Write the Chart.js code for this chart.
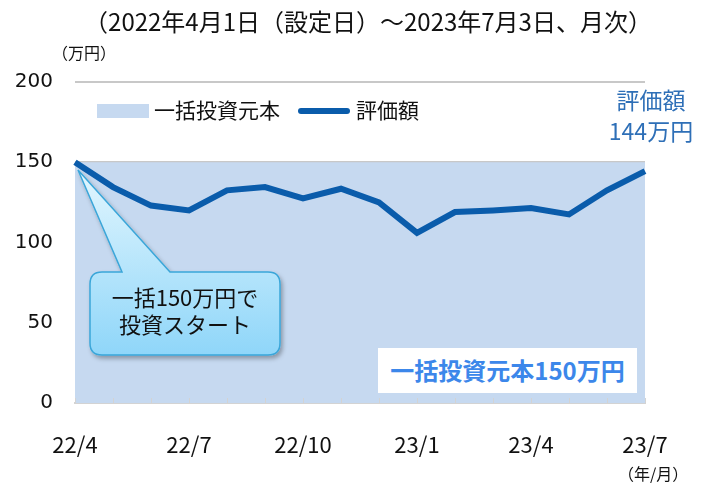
<!DOCTYPE html>
<html lang="ja">
<head>
<meta charset="utf-8">
<script src="https://cdn.jsdelivr.net/npm/chart.js@4.4.1/dist/chart.umd.min.js"></script>
<style>
  body { margin: 0; background: #fff; font-family: "Noto Sans CJK JP", sans-serif; }
  #wrap { position: relative; width: 706px; height: 483px; overflow: hidden; }
  #graf { position: absolute; left: 0; top: 0; }
  .txt { position: absolute; white-space: nowrap; color: #111; }
  #titulo { left: 0; width: 736px; top: 3px; text-align: center; font-size: 24px; }
  #unidade { left: 52px; top: 40px; font-size: 16px; }
  #unidadeX { left: 618px; top: 461px; font-size: 16px; }
  #leg1box { position: absolute; left: 97px; top: 104px; width: 52px; height: 14px; background: #c6d9f0; }
  #leg1 { left: 154px; top: 94px; font-size: 21px; }
  #leg2line { position: absolute; left: 298px; top: 108px; width: 52px; height: 6px; border-radius: 3px; background: #0a5cab; }
  #leg2 { left: 356px; top: 94px; font-size: 21px; }
  .azul { color: #2e6fb7; font-size: 23px; text-align: center; width: 110px; left: 596px; }
  #fim1 { top: 82px; }
  #fim2 { top: 113px; }
  #caixa { position: absolute; left: 378px; top: 348px; width: 259px; height: 45px; background: #fff; }
  #caixaTxt { left: 378px; width: 259px; top: 352px; text-align: center; font-size: 24px; font-weight: bold; color: #3c87ea; }
  #balao { position: absolute; left: 0; top: 0; }
  #balaoTxt { left: 90px; width: 190px; top: 283px; text-align: center; font-size: 22px; line-height: 27px; }
</style>
</head>
<body>
<div id="wrap">
  <canvas id="graf" width="706" height="483"></canvas>
  <div class="txt" id="titulo">（2022年4月1日（設定日）～2023年7月3日、月次）</div>
  <div class="txt" id="unidade">（万円）</div>
  <div id="leg1box"></div>
  <div class="txt" id="leg1">一括投資元本</div>
  <div id="leg2line"></div>
  <div class="txt" id="leg2">評価額</div>
  <div class="txt azul" id="fim1">評価額</div>
  <div class="txt azul" id="fim2">144万円</div>
  <div id="caixa"></div>
  <div class="txt" id="caixaTxt">一括投資元本150万円</div>
  <svg id="balao" width="706" height="483">
    <defs>
      <linearGradient id="grad" x1="0" y1="0" x2="0" y2="1">
        <stop offset="0" stop-color="#e2f6fe"/>
        <stop offset="1" stop-color="#8fd6f9"/>
      </linearGradient>
      <filter id="sombra" x="-20%" y="-20%" width="140%" height="140%">
        <feDropShadow dx="2" dy="3" stdDeviation="2" flood-color="#000" flood-opacity="0.3"/>
      </filter>
    </defs>
    <path d="M102 272 L122 272 L78 170 L170 272 L268 272 Q280 272 280 284 L280 343 Q280 355 268 355 L102 355 Q90 355 90 343 L90 284 Q90 272 102 272 Z"
      fill="url(#grad)" stroke="#3aa6d9" stroke-width="1.5" filter="url(#sombra)"/>
  </svg>
  <div class="txt" id="balaoTxt">一括150万円で<br>投資スタート</div>
  <div class="txt" id="unidadeX">（年/月）</div>
</div>
<script>
// dados
const meses = ["22/4", "22/5", "22/6", "22/7", "22/8", "22/9", "22/10", "22/11", "22/12",
               "23/1", "23/2", "23/3", "23/4", "23/5", "23/6", "23/7"];
const mesesRotulo = ["22/4", "22/7", "22/10", "23/1", "23/4", "23/7"];
const avaliacao = [150, 134.5, 123, 120, 132.5, 134.5, 127.5, 133.5, 125,
                   106, 119, 120, 121.5, 117.5, 132.5, 144.5];
const principal = [150, 150, 150, 150, 150, 150, 150, 150, 150,
                   150, 150, 150, 150, 150, 150, 150];
const ticksY = [0, 50, 100, 150, 200];

// marquinhas do eixo x (pra dentro da area)
const marcasX = {
  id: "marcasX",
  afterDatasetsDraw(chart) {
    const ctx = chart.ctx;
    const x = chart.scales.x;
    const base = chart.chartArea.bottom;
    ctx.save();
    ctx.strokeStyle = "#d3d3d3";
    ctx.lineWidth = 1;
    meses.forEach((m, i) => {
      const px = Math.round(x.getPixelForValue(i)) + 0.5;
      ctx.beginPath();
      ctx.moveTo(px, base);
      ctx.lineTo(px, base - 5);
      ctx.stroke();
    });
    ctx.restore();
  }
};

const ctx = document.getElementById("graf").getContext("2d");
new Chart(ctx, {
  type: "line",
  data: {
    labels: meses,
    datasets: [
      {
        label: "評価額",
        data: avaliacao,
        borderColor: "#0a5cab",
        borderWidth: 6,
        pointRadius: 0,
        tension: 0,
        fill: false,
        order: 0
      },
      {
        label: "一括投資元本",
        data: principal,
        borderWidth: 0,
        borderColor: "rgba(0,0,0,0)",
        backgroundColor: "#c6d9f0",
        pointRadius: 0,
        fill: "origin",
        order: 1
      }
    ]
  },
  options: {
    responsive: false,
    animation: false,
    layout: { padding: { left: 0, right: 61, top: 82, bottom: 0 } },
    plugins: { legend: { display: false }, tooltip: { enabled: false } },
    scales: {
      x: {
        offset: false,
        z: 1,
        grid: { display: false },
        border: { display: true, color: "#d3d3d3", width: 2 },
        afterFit(s) { s.height = 80; },
        ticks: {
          autoSkip: false,
          maxRotation: 0,
          padding: 20,
          color: "#111",
          font: { family: "Noto Sans CJK JP", size: 22 },
          callback: (v, i) => mesesRotulo.includes(meses[i]) ? meses[i] : ""
        }
      },
      y: {
        min: 0,
        max: 200,
        afterFit(s) { s.width = 75; },
        afterBuildTicks(s) { s.ticks = ticksY.map(v => ({ value: v })); },
        border: { display: false },
        grid: { color: "#c8c8c8", lineWidth: 2, drawTicks: false },
        ticks: {
          padding: 22,
          color: "#111",
          font: { family: "DejaVu Sans", size: 20 }
        }
      }
    }
  },
  plugins: [marcasX]
});
</script>
</body>
</html>
